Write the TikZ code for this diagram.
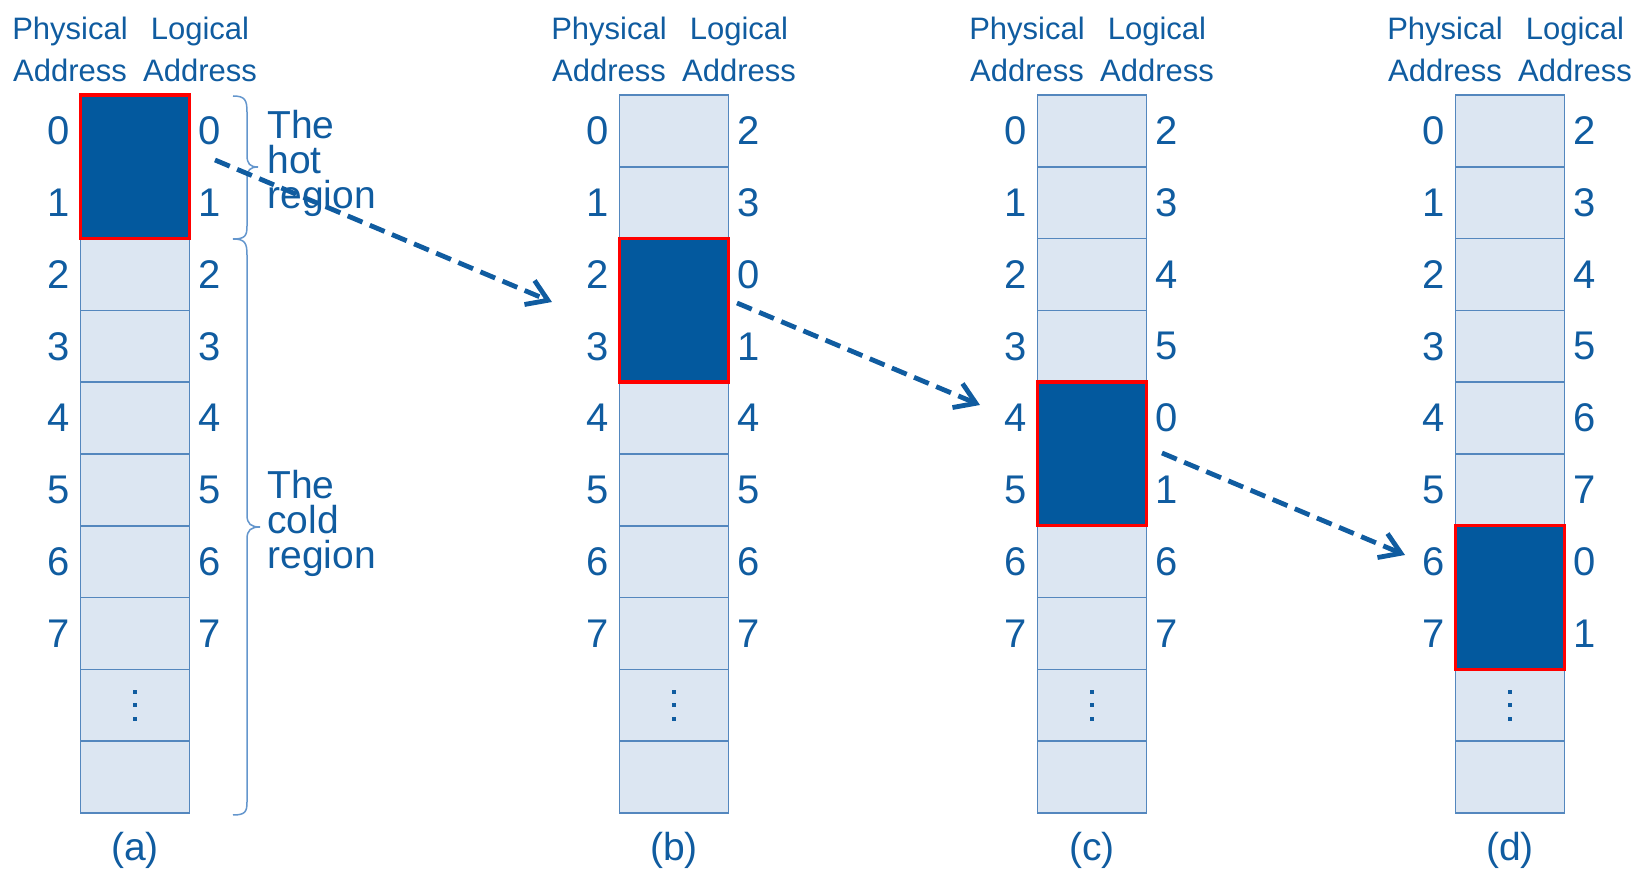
\documentclass[tikz,border=0pt]{standalone}
\usepackage{fontspec}
\setmainfont{Liberation Sans}
\usetikzlibrary{arrows.meta}
\definecolor{ink}{RGB}{16,92,160}
\definecolor{hotfill}{RGB}{3,89,158}
\definecolor{hotedge}{RGB}{255,0,0}
\definecolor{cellfill}{RGB}{220,230,242}
\definecolor{cellline}{RGB}{84,135,190}
\definecolor{bracecol}{RGB}{100,150,205}
\begin{document}
\begin{tikzpicture}[x=0.5pt,y=-0.5pt,
  cell/.style={draw=cellline,fill=cellfill,line width=0.85pt,
    minimum width=54.5pt,minimum height=35.9pt,inner sep=0pt,outer sep=0pt},
  hotblock/.style={draw=hotedge,fill=hotfill,line width=1.7pt,
    minimum width=54.5pt,minimum height=71.8pt,inner sep=0pt,outer sep=0pt},
  num/.style={text=ink,font=\fontsize{20}{24}\selectfont,inner sep=0pt},
  head/.style={text=ink,font=\fontsize{15.5}{21}\selectfont,align=center,
    inner sep=0pt,anchor=south},
  note/.style={text=ink,font=\fontsize{19.5}{17.5}\selectfont,align=left,
    inner sep=0pt,anchor=west},
  captext/.style={text=ink,font=\fontsize{19.5}{24}\selectfont,inner sep=0pt},
  move/.style={draw=ink,line width=2.4pt,dash pattern=on 8pt off 4pt,
    -{Straight Barb[length=10pt,width=13pt]}},
  bracepath/.style={draw=bracecol,line width=0.75pt}
]
\useasboundingbox (0,0) rectangle (1635,871);

% four snapshots of the address table
\foreach \c/\cx/\h/\logs in {a/135/0/{0,1,2,3,4,5,6,7},
                             b/674/2/{2,3,0,1,4,5,6,7},
                             c/1092/4/{2,3,4,5,0,1,6,7},
                             d/1510/6/{2,3,4,5,6,7,0,1}}{
  \foreach \i in {0,...,9}
    \node[cell] (\c\i) at (\cx,{95+71.8*(\i+0.5)}) {};
  \node[hotblock] (hi\c) at (\cx,{95+71.8*(\h+1)}) {};
  \foreach \d in {-13.5,0,13.5}
    \fill[ink] ({\cx-2},{703.3+\d}) rectangle ++(4,4);
  \foreach \l [count=\i from 0] in \logs {
    \node[num] (p\c\i) at (\cx-76,{95+71.8*(\i+0.5)}) {\i};
    \node[num] (l\c\i) at (\cx+75,{95+71.8*(\i+0.5)}) {\l};
  }
  \node[head] (ph\c) at (\cx-65,82) {Physical\\Address};
  \node[head] (lh\c) at (\cx+65,82) {Logical\\Address};
  \node[captext] (cap\c) at (\cx,850) {(\c)};
}

% braces marking the two regions
\path[bracepath] (233,96) .. controls (245,96) and (247,100) .. (247,112)
  -- (247,155) .. controls (247,164) and (250,167) .. (258,167)
  .. controls (250,167) and (247,170) .. (247,179)
  -- (247,226) .. controls (247,236) and (245,239) .. (233,239);
\path[bracepath] (233,239) .. controls (245,239) and (247,243) .. (247,255)
  -- (247,515) .. controls (247,524) and (251,527) .. (260,527)
  .. controls (251,527) and (247,530) .. (247,539)
  -- (247,802) .. controls (247,812) and (245,815) .. (233,815);

\node[note] (hotlbl) at (267,163) {The\\hot\\region};
\node[note] (coldlbl) at (267,523) {The\\cold\\region};

% movement of the hot region
\coordinate (m1s) at (215,160);
\coordinate (m1e) at (552,302);
\coordinate (m2s) at (737,303);
\coordinate (m2e) at (980,405);
\coordinate (m3s) at (1162,453);
\coordinate (m3e) at (1405,555);
\draw[move] (m1s) -- (m1e);
\draw[move] (m2s) -- (m2e);
\draw[move] (m3s) -- (m3e);
\end{tikzpicture}
\end{document}
